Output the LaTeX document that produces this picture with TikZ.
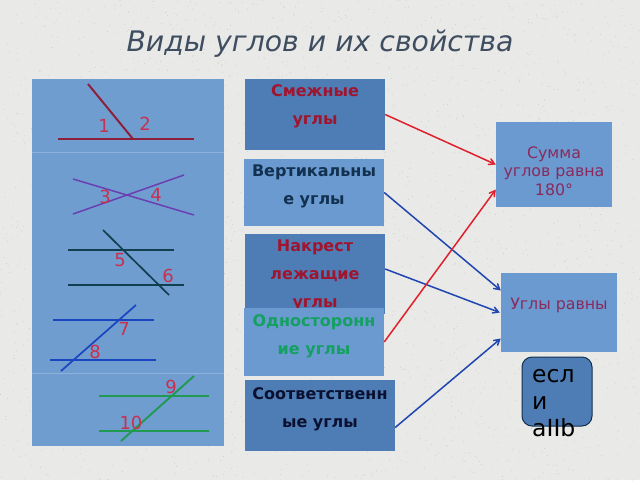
\documentclass[tikz,border=0pt]{standalone}
\usepackage{fontspec}
\setmainfont{DejaVu Sans}
\usetikzlibrary{positioning,arrows}
\definecolor{pagegrey}{HTML}{E9E9E7}
\definecolor{speck}{HTML}{C9C9C6}
\definecolor{panelblue}{HTML}{6F9DD0}
\definecolor{darkbox}{HTML}{4E7DB6}
\definecolor{lightbox}{HTML}{6A9AD0}
\definecolor{numred}{HTML}{C8304F}
\definecolor{plumtext}{HTML}{8A2A5C}
\definecolor{titlegrey}{HTML}{3E4E60}
\definecolor{arrowred}{HTML}{E0202C}
\definecolor{arrowblue}{HTML}{1F45B0}
\definecolor{linered}{HTML}{8C1F3A}
\definecolor{linepurple}{HTML}{6A3FB0}
\definecolor{lineteal}{HTML}{123F4F}
\definecolor{lineblue}{HTML}{1A45C0}
\definecolor{linegreen}{HTML}{1F9A50}
\definecolor{textred}{HTML}{A0142E}
\definecolor{textnavy}{HTML}{12304F}
\definecolor{textgreen}{HTML}{14A060}
\definecolor{textink}{HTML}{0A1030}
\begin{document}
\begin{tikzpicture} [
					x=1pt,y=-1pt,
					box/.style={inner xsep=0,inner ysep=0,align=center,font=\fontsize{16}{28}\bfseries\selectfont},
					darkbox/.style={box,fill=darkbox},
					lightbox/.style={box,fill=lightbox},
					result/.style={fill=lightbox,inner xsep=0,inner ysep=0,align=center,text=plumtext},
					num/.style={text=numred,inner sep=0,font=\fontsize{18}{20}\selectfont},
					link/.style={->,>=angle 60,line width=1.5pt},
				]

				\useasboundingbox (0,0) rectangle (640,480);
				\fill[pagegrey] (0,0) rectangle (640,480);
				\pgfmathsetseed{7}
				\foreach \i in {1,...,2500}
					\fill[speck] (rnd*640,rnd*480) circle (0.45pt);

				\node[anchor=west,text=titlegrey,font=\fontsize{28.3}{32}\itshape\selectfont] (title) at (123,44) {Виды углов и их свойства};

				% left panel
				\fill[panelblue] (32,79) rectangle (224,446);
				\draw[panelblue!80!white,very thin] (32,152) -- (224,152);
				\draw[panelblue!80!white,very thin] (32,373) -- (224,373);

				\draw[color=linered,line width=2pt] (58,139) -- (194,139);
				\draw[color=linered,line width=2pt] (88,84) -- (133,139);
				\draw[color=linepurple,line width=1.5pt] (73,179) -- (194,215);
				\draw[color=linepurple,line width=1.5pt] (73,214) -- (184,175);
				\draw[color=lineteal,line width=1.7pt] (68,250) -- (174,250);
				\draw[color=lineteal,line width=1.7pt] (68,285) -- (184,285);
				\draw[color=lineteal,line width=1.7pt] (103,230) -- (169,295);
				\draw[color=lineblue,line width=1.7pt] (53,320) -- (154,320);
				\draw[color=lineblue,line width=1.7pt] (50,360) -- (156,360);
				\draw[color=lineblue,line width=1.7pt] (61,371) -- (136,305);
				\draw[color=linegreen,line width=1.9pt] (99,396) -- (209,396);
				\draw[color=linegreen,line width=1.9pt] (99,431) -- (209,431);
				\draw[color=linegreen,line width=1.9pt] (121,441) -- (194,376);

				\node[num] (n1) at (104,126) {1};
				\node[num] (n2) at (145,124) {2};
				\node[num] (n3) at (105,197) {3};
				\node[num] (n4) at (156,195) {4};
				\node[num] (n5) at (120,260) {5};
				\node[num] (n6) at (168,276) {6};
				\node[num] (n7) at (124,329) {7};
				\node[num] (n8) at (95,352) {8};
				\node[num] (n9) at (171,387) {9};
				\node[num] (n10) at (131,423) {10};

				% middle column
				\node[darkbox,minimum width=140pt,text height=45pt,text depth=26pt,text=textred] (adjacent) at (315,114.5) {Смежные\\углы};
				\node[lightbox,minimum width=140pt,text height=45pt,text depth=22pt,text=textnavy] (vertical) at (314,192.5) {Вертикальны\\е углы};
				\node[darkbox,minimum width=140pt,text height=73pt,text depth=7pt,text=textred] (alternate) at (315,274) {Накрест\\лежащие\\углы};
				\node[lightbox,minimum width=140pt,text height=46pt,text depth=22pt,text=textgreen] (cointerior) at (314,342) {Односторонн\\ие углы};
				\node[darkbox,minimum width=150pt,text height=47pt,text depth=24pt,text=textink] (corresponding) at (320,415.5) {Соответственн\\ые углы};

				% right column
				\node[result,minimum width=116pt,text height=73pt,text depth=12pt,font=\fontsize{15.8}{18.5}\selectfont] (sum) at (554,164.5) {Сумма\\углов равна\\180°};
				\node[result,minimum width=116pt,text height=36pt,text depth=43pt,font=\fontsize{15.8}{18.5}\selectfont] (equal) at (559,312.5) {Углы равны};
				\node[draw=textnavy,fill=darkbox,rounded corners=10pt,line width=1pt,minimum width=70pt,minimum height=69pt,inner sep=0] (cond) at (557,391.5) {};
				\node[anchor=north west,inner sep=0,align=left,font=\fontsize{23.5}{27}\selectfont] (condtext) at (532,369) {есл\\и\\aIIb};

				\draw[link,arrowred] (adjacent.east) to (sum.west);
				\draw[link,arrowblue] (vertical.east) to ([yshift=22pt]equal.west);
				\draw[link,arrowblue] ([yshift=5pt]alternate.east) to ([xshift=-1pt]equal.west);
				\draw[link,arrowred] (cointerior.east) to ([yshift=-25pt]sum.west);
				\draw[link,arrowblue] ([yshift=-12pt]corresponding.east) to ([yshift=-26pt]equal.west);

			\end{tikzpicture}
\end{document}
